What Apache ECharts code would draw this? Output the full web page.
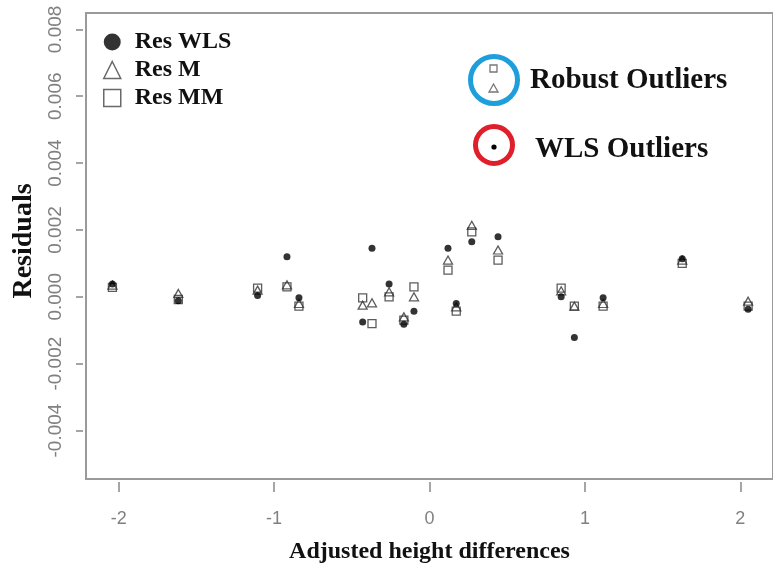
<!DOCTYPE html>
<html>
<head>
<meta charset="utf-8">
<script src="https://cdn.jsdelivr.net/npm/echarts@6/dist/echarts.min.js"></script>
<style>html,body{margin:0;padding:0;background:#fff;}#c{width:773px;height:569px;}</style>
</head>
<body>
<div id="c"></div>
<script>
// Adjusted height differences (x) and residuals of the three fits
const xVals  = [-2.04, -1.616, -1.106, -0.917, -0.84, -0.43, -0.37, -0.26, -0.165, -0.1, 0.119, 0.172, 0.272, 0.441, 0.847, 0.932, 1.117, 1.626, 2.05];
const resWLS = [0.00038, -0.00012, 0.00004, 0.0012, -0.00003, -0.00075, 0.00145, 0.00038, -0.00082, -0.00043, 0.00145, -0.0002, 0.00165, 0.0018, 0.0, -0.00122, -0.00003, 0.00114, -0.00037];
const resM   = [0.00035, 0.0001, 0.0002, 0.00036, -0.0002, -0.00025, -0.00018, 0.00015, -0.0006, 0.0, 0.0011, -0.0003, 0.00214, 0.0014, 0.00018, -0.00028, -0.0002, 0.0011, -0.00013];
const resMM  = [0.00028, -0.00008, 0.00026, 0.0003, -0.00028, -0.00003, -0.0008, 0.0, -0.0007, 0.0003, 0.0008, -0.00043, 0.00194, 0.0011, 0.00026, -0.00028, -0.00028, 0.001, -0.00028];
const xTicks = [-2, -1, 0, 1, 2];
const yTicks = [-0.004, -0.002, 0, 0.002, 0.004, 0.006, 0.008];
const seriesNames = ['Res WLS', 'Res M', 'Res MM'];
const annotations = ['Robust Outliers', 'WLS Outliers'];

const serif = 'Liberation Serif';
const sans = 'Liberation Sans';
const chart = echarts.init(document.getElementById('c'), null, {renderer: 'canvas'});
const pts = arr => xVals.map((x, i) => [x, arr[i]]);
const openStyle = {color: 'transparent', borderColor: '#333', borderWidth: 1.3};

chart.setOption({
  animation: false,
  backgroundColor: '#fff',
  grid: {left: 86, right: -8, top: 13, bottom: 85, show: true, borderColor: '#9a9a9a', borderWidth: 2},
  legend: {
    orient: 'vertical', left: 98, top: 25, itemWidth: 17, itemHeight: 17, itemGap: 4,
    textStyle: {fontFamily: serif, fontWeight: 'bold', fontSize: 24, color: '#111', lineHeight: 24, padding: [0, 0, 0, 9]},
    data: [
      {name: seriesNames[0], icon: 'circle', itemStyle: {color: '#000', borderWidth: 0}},
      {name: seriesNames[1], icon: 'triangle', itemStyle: {color: 'transparent', borderColor: '#444', borderWidth: 1.5}},
      {name: seriesNames[2], icon: 'rect', itemStyle: {color: 'transparent', borderColor: '#444', borderWidth: 1.5}}
    ]
  },
  xAxis: {
    type: 'value', min: -2.21, max: 2.21, offset: 3,
    axisLine: {show: false, onZero: false}, splitLine: {show: false},
    axisTick: {show: true, length: 10, customValues: xTicks, lineStyle: {color: '#888', width: 1.5}},
    axisLabel: {customValues: xTicks, margin: 28, color: '#808080', fontSize: 18, fontFamily: sans, formatter: v => String(v)},
    name: 'Adjusted height differences', nameLocation: 'middle', nameGap: 58,
    nameTextStyle: {fontFamily: serif, fontWeight: 'bold', fontSize: 24, color: '#111'}
  },
  yAxis: {
    type: 'value', min: -0.00545, max: 0.00849, offset: 3,
    axisLine: {show: false, onZero: false}, splitLine: {show: false},
    axisTick: {show: true, length: 7, customValues: yTicks, lineStyle: {color: '#888', width: 1.5}},
    axisLabel: {customValues: yTicks, rotate: 90, margin: 18, color: '#808080', fontSize: 19, fontFamily: sans, formatter: v => v.toFixed(3)},
    name: 'Residuals', nameLocation: 'middle', nameRotate: 90, nameGap: 41,
    nameTextStyle: {fontFamily: serif, fontWeight: 'bold', fontSize: 28, color: '#111', padding: [0, 0, 0, 10]}
  },
  series: [
    {name: seriesNames[0], type: 'scatter', symbol: 'circle', symbolSize: 7, z: 4, data: pts(resWLS), itemStyle: {color: '#000'}},
    {name: seriesNames[1], type: 'scatter', symbol: 'triangle', symbolSize: [9, 8], z: 3, data: pts(resM), itemStyle: openStyle},
    {name: seriesNames[2], type: 'scatter', symbol: 'rect', symbolSize: 8, z: 2, data: pts(resMM), itemStyle: openStyle}
  ],
  graphic: [
    {type: 'circle', shape: {cx: 494, cy: 80, r: 23.5}, style: {fill: 'none', stroke: '#1e9fdc', lineWidth: 5}},
    {type: 'rect', shape: {x: 490, y: 65, width: 7, height: 7}, style: {fill: 'none', stroke: '#777', lineWidth: 1.3}},
    {type: 'polygon', shape: {points: [[493.5, 84], [489, 92], [498, 92]]}, style: {fill: 'none', stroke: '#777', lineWidth: 1.3}},
    {type: 'text', left: 530, top: 66, style: {text: annotations[0], fontFamily: serif, fontWeight: 'bold', fontSize: 29, fill: '#111'}},
    {type: 'circle', shape: {cx: 494, cy: 145, r: 18.5}, style: {fill: 'none', stroke: '#e01f2a', lineWidth: 5}},
    {type: 'circle', shape: {cx: 494, cy: 147, r: 2.6}, style: {fill: '#000'}},
    {type: 'text', left: 535, top: 135, style: {text: annotations[1], fontFamily: serif, fontWeight: 'bold', fontSize: 29, fill: '#111'}}
  ]
});
</script>
</body>
</html>
